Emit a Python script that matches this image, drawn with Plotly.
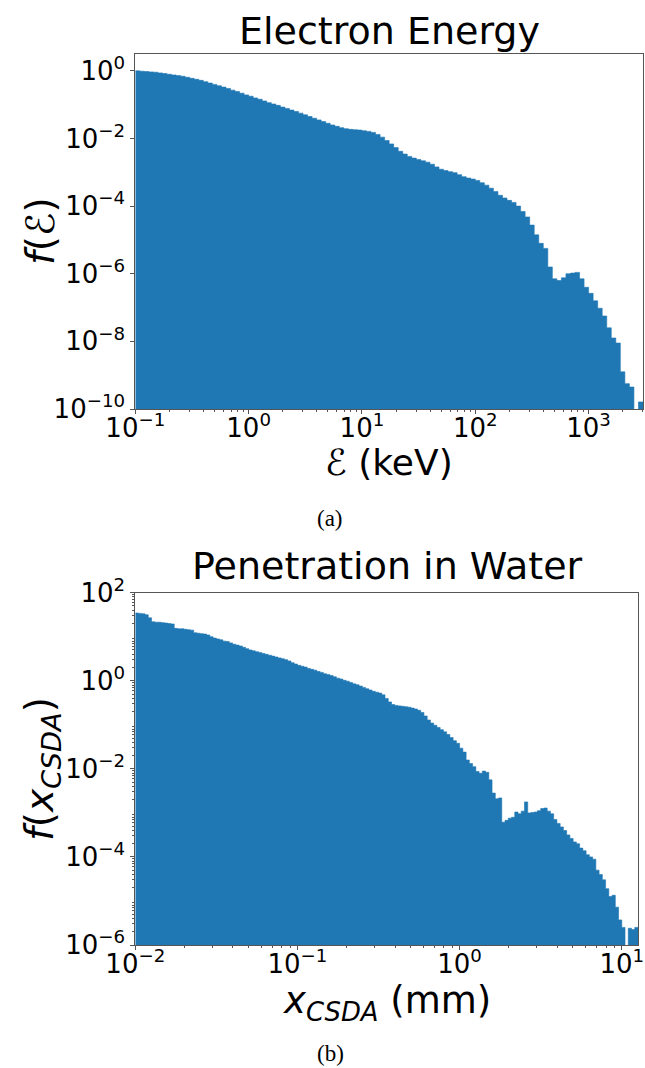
import numpy as np
import plotly.graph_objects as go

W, H = 645, 1068
BLUE = "#1f77b4"

# ---------------- data ----------------
# (a) Electron energy: log-spaced histogram bins, 0.04 decade wide, starting at 0.1 keV
energy_bin_start_kev = 0.1
energy_bin_decades = 0.04
# log10 of f(E) for each bin (None = empty bin)
energy_log10_f = [
    -0.00, -0.01, -0.02, -0.03, -0.04, -0.06, -0.08, -0.10, -0.12, -0.14,
    -0.16, -0.19, -0.22, -0.25, -0.28, -0.32, -0.36, -0.40, -0.44, -0.48,
    -0.52, -0.57, -0.61, -0.66, -0.71, -0.75, -0.80, -0.84, -0.89, -0.94,
    -0.98, -1.02, -1.07, -1.11, -1.16, -1.20, -1.25, -1.30, -1.35, -1.40,
    -1.45, -1.50, -1.55, -1.60, -1.64, -1.68, -1.71, -1.73, -1.74, -1.75,
    -1.77, -1.79, -1.82, -1.88, -1.96, -2.06, -2.16, -2.27, -2.38, -2.46,
    -2.53, -2.58, -2.62, -2.66, -2.70, -2.76, -2.84, -2.91, -2.95, -2.98,
    -3.01, -3.07, -3.13, -3.17, -3.20, -3.24, -3.31, -3.38, -3.47, -3.57,
    -3.68, -3.76, -3.83, -3.89, -4.00, -4.16, -4.32, -4.56, -4.85, -5.10,
    -5.25, -5.80, -6.15, -6.20, -6.12, -6.00, -5.98, -5.96, -6.15, -6.40,
    -6.58, -6.80, -7.02, -7.25, -7.60, -7.90, -8.05, -8.90, -9.25, -9.35,
    None, -9.79,
]

# (b) Penetration in water: log-spaced bins, 0.02 decade wide, starting at 0.01 mm
csda_bin_start_mm = 0.01
csda_bin_decades = 0.02
csda_log10_f = [
    1.54, 1.53, 1.52, 1.50, 1.43, 1.34, 1.33, 1.33, 1.32, 1.31,
    1.30, 1.29, 1.19, 1.18, 1.18, 1.17, 1.16, 1.15, 1.09, 1.08,
    1.07, 1.06, 1.04, 1.00, 0.97, 0.95, 0.93, 0.90, 0.89, 0.86,
    0.83, 0.81, 0.79, 0.76, 0.73, 0.70, 0.68, 0.66, 0.64, 0.62,
    0.60, 0.58, 0.56, 0.54, 0.52, 0.50, 0.48, 0.45, 0.41, 0.38,
    0.35, 0.33, 0.31, 0.28, 0.26, 0.24, 0.21, 0.19, 0.16, 0.14,
    0.12, 0.09, 0.06, 0.04, 0.01, -0.01, -0.04, -0.07, -0.09, -0.12,
    -0.15, -0.18, -0.21, -0.24, -0.26, -0.28, -0.32, -0.40, -0.48, -0.54,
    -0.56, -0.57, -0.58, -0.59, -0.60, -0.62, -0.64, -0.67, -0.72, -0.80,
    -0.89, -0.96, -1.01, -1.06, -1.11, -1.16, -1.22, -1.29, -1.36, -1.42,
    -1.53, -1.62, -1.80, -1.88, -1.95, -2.06, -2.10, -2.05, -2.08, -2.25,
    -2.55, -2.68, -2.66, -3.21, -3.17, -3.12, -3.10, -2.98, -3.02, -2.96,
    -2.75, -3.00, -2.99, -2.98, -2.95, -2.90, -2.89, -2.96, -3.02, -3.15,
    -3.24, -3.32, -3.40, -3.50, -3.58, -3.66, -3.70, -3.80, -3.86, -3.95,
    -4.00, -4.05, -4.30, -4.40, -4.52, -4.72, -4.90, -4.87, -5.14, -5.43,
    -5.60, None, -5.62, -5.65, -5.60,
]

energy_tick_exp = [-1, 0, 1, 2, 3]
energy_ytick_exp = [0, -2, -4, -6, -8, -10]
csda_tick_exp = [-2, -1, 0, 1]
csda_ytick_exp = [2, 0, -2, -4, -6]

# axis ranges (log10 units)
energy_xrange = [-1, 3.48]
energy_yrange = [-10, 0.49]
csda_xrange = [-2, 1.10]
csda_yrange = [-6, 2]

# ---------------- helpers ----------------
def pw(e):
    return "10<sup>" + ("\u2212" if e < 0 else "") + str(abs(e)) + "</sup>"


def hist_polygon(start, dec, logvals, floor):
    n = len(logvals)
    edges = start * 10.0 ** (dec * np.arange(n + 1))
    vals = [10.0 ** v if v is not None else floor for v in logvals]
    ys = vals + [vals[-1]]
    xs = list(edges)
    xs = xs + [edges[-1], edges[0]]
    ys = ys + [floor, floor]
    return xs, ys


def minor_vals(lo, hi):
    out = []
    for d in range(lo, hi + 1):
        for k in range(2, 10):
            out.append(k * 10.0 ** d)
    return out


def px(x):
    return x / W


def py(y):
    return 1 - y / H


fig = go.Figure()

xa, ya = hist_polygon(energy_bin_start_kev, energy_bin_decades, energy_log10_f, 1e-12)
fig.add_trace(go.Scatter(x=xa, y=ya, mode="lines", line=dict(color=BLUE, width=0.6, shape="hv"),
                         fill="toself", fillcolor=BLUE, hoverinfo="skip", showlegend=False,
                         xaxis="x", yaxis="y"))

xb, yb = hist_polygon(csda_bin_start_mm, csda_bin_decades, csda_log10_f, 1e-8)
fig.add_trace(go.Scatter(x=xb, y=yb, mode="lines", line=dict(color=BLUE, width=0.6, shape="hv"),
                         fill="toself", fillcolor=BLUE, hoverinfo="skip", showlegend=False,
                         xaxis="x2", yaxis="y2"))

FONT = "DejaVu Sans"
TICKFONT = dict(family=FONT, size=26, color="black")
LINEC = "#555555"

common = dict(type="log", showgrid=False, zeroline=False, showline=True, mirror=True,
              linecolor=LINEC, linewidth=1, ticks="outside", ticklen=4, tickwidth=1,
              tickcolor=LINEC, tickfont=TICKFONT, tickmode="array", automargin=False)

fig.update_layout(
    width=W, height=H,
    margin=dict(l=0, r=0, t=0, b=0, pad=0, autoexpand=False),
    paper_bgcolor="white", plot_bgcolor="white",
    showlegend=False,
    xaxis=dict(common, domain=[px(135.3), px(643)], anchor="y", range=energy_xrange,
               ticklabelstandoff=-8,
               tickvals=[10.0 ** e for e in energy_tick_exp],
               ticktext=[pw(e) for e in energy_tick_exp],
               minor=dict(ticks="outside", ticklen=2, tickcolor=LINEC, tickwidth=0.8,
                          tickmode="array", tickvals=minor_vals(-1, 3))),
    yaxis=dict(common, domain=[py(409), py(54.3)], anchor="x", range=energy_yrange,
               tickvals=[10.0 ** e for e in energy_ytick_exp],
               ticktext=[pw(e) for e in energy_ytick_exp]),
    xaxis2=dict(common, domain=[px(135.3), px(638)], anchor="y2", range=csda_xrange,
                ticklabelstandoff=-8,
                tickvals=[10.0 ** e for e in csda_tick_exp],
                ticktext=[pw(e) for e in csda_tick_exp],
                minor=dict(ticks="outside", ticklen=2, tickcolor=LINEC, tickwidth=0.8,
                           tickmode="array", tickvals=minor_vals(-2, 1))),
    yaxis2=dict(common, domain=[py(945), py(592.7)], anchor="x2", range=csda_yrange,
                tickvals=[10.0 ** e for e in csda_ytick_exp],
                ticktext=[pw(e) for e in csda_ytick_exp],
                minor=dict(ticks="outside", ticklen=2, tickcolor=LINEC, tickwidth=0.8,
                           tickmode="array", tickvals=minor_vals(-6, 1))),
)


def ann(text, x, y, size, angle=0, family=FONT):
    fig.add_annotation(text=text, x=px(x), y=py(y), xref="paper", yref="paper",
                       showarrow=False, textangle=angle, xanchor="center", yanchor="middle",
                       font=dict(family=family, size=size, color="black"))


ann("Electron Energy", 389, 31, 38)
ann("\u2130 (keV)", 389, 462, 36)
ann("<i>f</i>(\u2130)", 40, 231, 39, -90)
ann("(a)", 330, 518, 23, family="Liberation Serif")

ann("Penetration in Water", 387, 566, 38)
ann("<i>x</i><sub><i>CSDA</i></sub> (mm)", 387, 1003, 37)
ann("<i>f</i>(<i>x</i><sub><i>CSDA</i></sub>)", 42, 769, 39, -90)
ann("(b)", 330, 1053, 23, family="Liberation Serif")

fig.write_html("out.html")
